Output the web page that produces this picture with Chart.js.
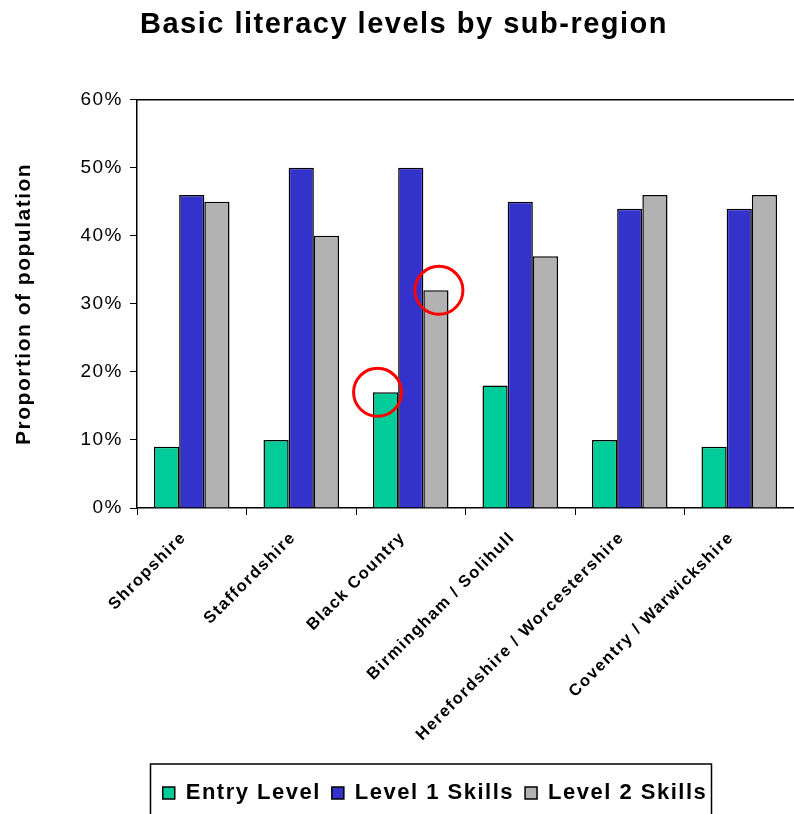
<!DOCTYPE html>
<html>
<head>
<meta charset="utf-8">
<script src="https://cdn.jsdelivr.net/npm/chart.js@4/dist/chart.umd.min.js"></script>
<style>
  html, body { margin: 0; padding: 0; background: #fff; }
  #wrap { width: 794px; height: 814px; }
</style>
</head>
<body>
<div id="wrap"><canvas id="myChart" width="794" height="814"></canvas></div>
<script>
// Share of adults at each basic literacy level, by sub-region (%)
const regions = ['Shropshire', 'Staffordshire', 'Black Country', 'Birmingham / Solihull',
                 'Herefordshire / Worcestershire', 'Coventry / Warwickshire'];
const entryLevel = [9, 10, 17, 18, 10, 9];
const level1Skills = [46, 50, 50, 45, 44, 44];
const level2Skills = [45, 40, 32, 37, 46, 46];
const yTicks = [0, 10, 20, 30, 40, 50, 60];

const FONT = '"Liberation Sans", Arial, Helvetica, sans-serif';
const SPACING = '1.5px';

// letter spacing on all text, top border of the plot,
// shifted title and legend, legend frame, and the two highlight rings
const extras = {
    id: 'extras',
    beforeUpdate(chart) {
        chart.ctx.letterSpacing = SPACING;
    },
    beforeDraw(chart) {
        chart.ctx.letterSpacing = SPACING;
    },
    afterLayout(chart) {
        const lg = chart.legend;
        lg.left += 38;
        lg.right += 38;
        const tb = chart.titleBlock;
        tb.left += 7;
        tb.right += 7;
    },
    afterDatasetsDraw(chart) {
        const ctx = chart.ctx;
        const a = chart.chartArea;
        ctx.save();
        ctx.strokeStyle = '#000';
        ctx.lineWidth = 1.5;
        ctx.beginPath();
        ctx.moveTo(a.left, a.top);
        ctx.lineTo(a.right, a.top);
        ctx.stroke();

        const entryBar = chart.getDatasetMeta(0).data[2];
        const l2Bar = chart.getDatasetMeta(2).data[2];
        ctx.strokeStyle = '#ff0000';
        ctx.lineWidth = 3;
        ctx.beginPath();
        ctx.arc(entryBar.x - 8, entryBar.y, 24, 0, Math.PI * 2);
        ctx.stroke();
        ctx.beginPath();
        ctx.arc(l2Bar.x + 3, l2Bar.y, 24, 0, Math.PI * 2);
        ctx.stroke();
        ctx.restore();
    },
    afterDraw(chart) {
        const lg = chart.legend;
        const ctx = chart.ctx;
        ctx.save();
        ctx.strokeStyle = '#000';
        ctx.lineWidth = 1.5;
        ctx.strokeRect(150.5, lg.top - 7, 561, chart.height);
        ctx.restore();
    }
};

const ctx = document.getElementById('myChart').getContext('2d');
const myChart = new Chart(ctx, {
    type: 'bar',
    data: {
        labels: regions,
        datasets: [{
            label: 'Entry Level',
            data: entryLevel,
            backgroundColor: '#00cc99',
            borderColor: '#000',
            borderWidth: 1.5,
        }, {
            label: 'Level 1 Skills',
            data: level1Skills,
            backgroundColor: '#3333cc',
            borderColor: '#000',
            borderWidth: 1.5,
        }, {
            label: 'Level 2 Skills',
            data: level2Skills,
            backgroundColor: '#b2b2b2',
            borderColor: '#000',
            borderWidth: 1.5,
        }]
    },
    plugins: [extras],
    options: {
        responsive: false,
        animation: false,
        devicePixelRatio: 1,
        layout: { padding: 0 },
        datasets: {
            bar: { categoryPercentage: 0.69, barPercentage: 1.0 }
        },
        plugins: {
            title: {
                display: true,
                text: 'Basic literacy levels by sub-region',
                color: '#000',
                font: { family: FONT, size: 29, weight: 'bold' },
                padding: { top: 8, bottom: 57 }
            },
            legend: {
                position: 'bottom',
                labels: {
                    color: '#000',
                    font: { family: FONT, size: 22, weight: 'bold' },
                    boxWidth: 12,
                    boxHeight: 12,
                    padding: 11
                }
            },
            tooltip: { enabled: false }
        },
        scales: {
            x: {
                grid: {
                    display: true,
                    drawOnChartArea: false,
                    color: '#000',
                    tickLength: 7,
                    offset: true
                },
                border: { color: '#000', width: 1.5 },
                ticks: {
                    color: '#000',
                    font: { family: FONT, size: 16.5, weight: 'bold' },
                    minRotation: 45,
                    maxRotation: 45,
                    autoSkip: false,
                    padding: 13,
                    labelOffset: -8
                },
                afterFit(scale) { scale.height = 263; }
            },
            y: {
                min: 0,
                max: 60,
                afterBuildTicks(scale) {
                    scale.ticks = yTicks.map(v => ({ value: v }));
                },
                grid: {
                    display: true,
                    drawOnChartArea: false,
                    color: '#000',
                    tickLength: 7
                },
                border: { color: '#000', width: 1.5 },
                ticks: {
                    color: '#000',
                    font: { family: FONT, size: 19 },
                    padding: 7,
                    callback: function(value) {
                        return value + '%';
                    }
                },
                title: {
                    display: true,
                    text: 'Proportion of population',
                    color: '#000',
                    font: { family: FONT, size: 21, weight: 'bold' },
                    padding: { top: 12, bottom: 0 }
                },
                afterFit(scale) { scale.width = 137; }
            }
        }
    }
});
</script>
</body>
</html>
